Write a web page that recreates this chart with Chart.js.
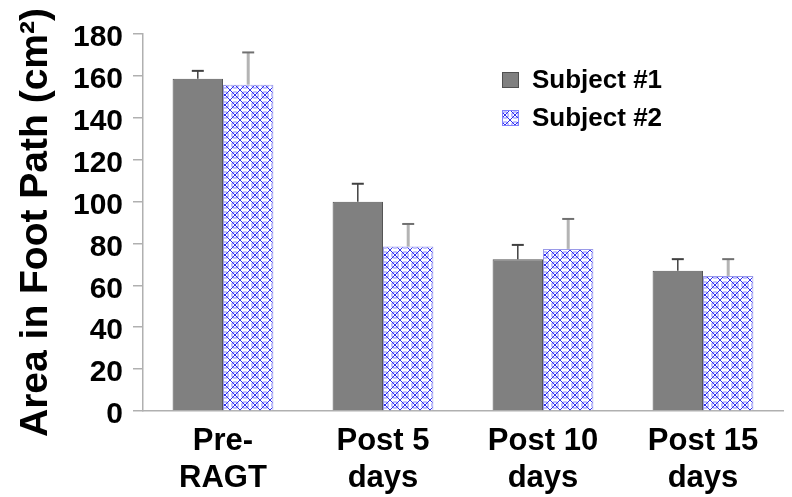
<!DOCTYPE html>
<html lang="en">
<head>
    <meta charset="UTF-8">
    <title>Area in Foot Path</title>
    <style>
        body {
            margin: 0;
            padding: 0;
            background: #fff;
        }
    </style>
</head>
<body>
    <canvas id="footChart" width="792" height="497"></canvas>
    <script src="https://cdn.jsdelivr.net/npm/chart.js"></script>
    <script>
        // dados
        const categories = [['Pre-', 'RAGT'], ['Post 5', 'days'], ['Post 10', 'days'], ['Post 15', 'days']];
        const subject1 = [158.6, 99.9, 72.5, 67];
        const subject2 = [155.8, 78.5, 77.4, 64.5];
        const subject1Err = [3.8, 8.6, 6.8, 5.5];
        const subject2Err = [15.4, 10.8, 14.3, 8];
        const yTicks = [0, 20, 40, 60, 80, 100, 120, 140, 160, 180];

        const FONT = '"Liberation Sans", Arial, Helvetica, sans-serif';

        // padrao azul quadriculado
        function makePattern() {
            const c = document.createElement('canvas');
            c.width = 10;
            c.height = 10;
            const g = c.getContext('2d');
            g.fillStyle = '#ffffff';
            g.fillRect(0, 0, 10, 10);
            g.strokeStyle = '#a0a0ff';
            g.lineWidth = 1.3;
            g.beginPath();
            g.arc(5, 5, 3.2, 0, Math.PI * 2);
            g.stroke();
            g.strokeStyle = '#3030f0';
            g.lineWidth = 1;
            g.beginPath();
            g.moveTo(0, 0); g.lineTo(10, 10);
            g.moveTo(10, 0); g.lineTo(0, 10);
            g.stroke();
            return g.createPattern(c, 'repeat');
        }

        const ctx = document.getElementById('footChart').getContext('2d');
        const hatch = makePattern();

        const errorBars = {
            id: 'errorBars',
            afterDatasetsDraw(chart) {
                const c = chart.ctx;
                const yScale = chart.scales.y;
                const errs = [subject1Err, subject2Err];
                chart.data.datasets.forEach((ds, di) => {
                    const meta = chart.getDatasetMeta(di);
                    meta.data.forEach((bar, i) => {
                        const top = yScale.getPixelForValue(ds.data[i] + errs[di][i]);
                        c.save();
                        c.strokeStyle = di === 0 ? '#404040' : '#b4b4b4';
                        c.lineWidth = di === 0 ? 1.5 : 3;
                        c.beginPath();
                        c.moveTo(bar.x, bar.y);
                        c.lineTo(bar.x, top);
                        c.stroke();
                        c.strokeStyle = di === 0 ? '#404040' : '#707070';
                        c.lineWidth = 2;
                        c.beginPath();
                        c.moveTo(bar.x - 6, top);
                        c.lineTo(bar.x + 6, top);
                        c.stroke();
                        c.restore();
                    });
                });
            }
        };

        const customLegend = {
            id: 'customLegend',
            afterDraw(chart) {
                const c = chart.ctx;
                c.save();
                c.font = 'bold 26px ' + FONT;
                c.textBaseline = 'middle';
                c.fillStyle = '#000';
                chart.data.datasets.forEach((ds, i) => {
                    const y = 80 + i * 38;
                    c.fillStyle = ds.backgroundColor;
                    c.fillRect(502, y - 8, 17, 16);
                    c.strokeStyle = i === 0 ? '#505050' : '#8080ff';
                    c.lineWidth = 1;
                    c.strokeRect(502.5, y - 7.5, 16, 15);
                    c.fillStyle = '#000';
                    c.fillText(ds.label, 532, y + 1);
                });
                c.restore();
            }
        };

        new Chart(ctx, {
            type: 'bar',
            data: {
                labels: categories,
                datasets: [{
                    label: 'Subject #1',
                    data: subject1,
                    backgroundColor: '#808080',
                    borderColor: '#555555',
                    borderWidth: 1
                }, {
                    label: 'Subject #2',
                    data: subject2,
                    backgroundColor: hatch,
                    borderColor: '#9a9ae8',
                    borderWidth: 1
                }]
            },
            options: {
                responsive: false,
                animation: false,
                layout: { padding: { top: 34, right: 9, left: 0, bottom: 0 } },
                datasets: {
                    bar: { categoryPercentage: 0.63, barPercentage: 1 }
                },
                plugins: {
                    legend: { display: false },
                    tooltip: { enabled: false }
                },
                scales: {
                    x: {
                        grid: { display: false, drawTicks: false },
                        border: { color: '#b0b0b0', width: 1.5 },
                        ticks: {
                            color: '#000',
                            padding: 12,
                            font: { family: FONT, size: 31, weight: 'bold', lineHeight: 1.2 }
                        },
                        afterFit(scale) { scale.height = 86; }
                    },
                    y: {
                        min: 0,
                        max: 180,
                        afterBuildTicks(scale) { scale.ticks = yTicks.map(v => ({ value: v })); },
                        grid: { drawOnChartArea: false, drawTicks: true, tickLength: 10, color: '#b0b0b0', lineWidth: 1.5 },
                        border: { color: '#b0b0b0', width: 1.5 },
                        ticks: {
                            color: '#000',
                            padding: 10,
                            labelOffset: 4,
                            font: { family: FONT, size: 30, weight: 'bold' }
                        },
                        title: {
                            display: true,
                            text: 'Area in Foot Path (cm²)',
                            color: '#000',
                            padding: { top: 13, bottom: 0 },
                            font: { family: FONT, size: 39, weight: 'bold', lineHeight: 1.2 }
                        },
                        afterFit(scale) { scale.width = 143; }
                    }
                }
            },
            plugins: [errorBars, customLegend]
        });
    </script>
</body>
</html>
